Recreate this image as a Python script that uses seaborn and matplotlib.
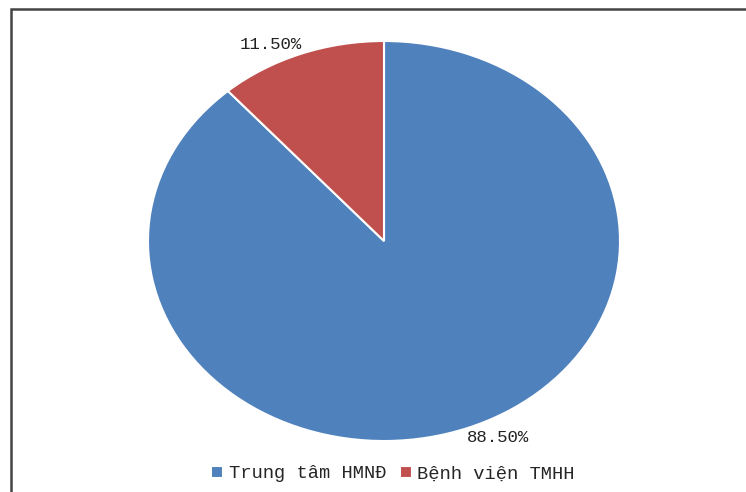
import numpy as np
import pandas as pd
import matplotlib.pyplot as plt
import seaborn as sns
from matplotlib.patches import Rectangle

# Du lieu
categories = ['Trung tâm HMNĐ', 'Bệnh viện TMHH']
values = [88.5, 11.5]
colors = ['#4F81BD', '#C0504D']

df = pd.DataFrame({'DonVi': categories, 'TyLe': values})

sns.set_theme(style='white')
plt.rcParams['font.family'] = ['Liberation Mono', 'DejaVu Sans Mono']

fig = plt.figure(figsize=(7.46, 4.92), dpi=100)
ax = fig.add_axes([148 / 746, 51 / 492, 472 / 746, 400 / 492])

wedges, texts, autotexts = ax.pie(
    df['TyLe'],
    colors=colors,
    startangle=90,
    counterclock=False,
    autopct='%.2f%%',
    pctdistance=1.05,
    wedgeprops={'edgecolor': 'white', 'linewidth': 1.5},
    textprops={'fontsize': 12.5, 'color': '#222222'},
)
ax.set_aspect('auto')
ax.set_xlim(-1, 1)
ax.set_ylim(-1, 1)

# dich nhan ra ngoai theo kieu "best fit"
for w, t in zip(wedges, autotexts):
    x, y = t.get_position()
    t.set_position((x + 0.11 * np.sign(x), y))

fig.legend(
    wedges, df['DonVi'],
    loc='center', bbox_to_anchor=(393 / 746, 1 - 474 / 492),
    ncol=2, frameon=False, fontsize=13.5,
    handlelength=0.65, handleheight=0.65, handletextpad=0.3, columnspacing=0.7,
)

# khung vien
fig.patches.append(Rectangle((11 / 746, -0.1), 1.2, 1 - 9 / 492 + 0.1,
                             transform=fig.transFigure, fill=False,
                             edgecolor='#444444', linewidth=1.8))

fig.savefig('out.png', dpi=100)
